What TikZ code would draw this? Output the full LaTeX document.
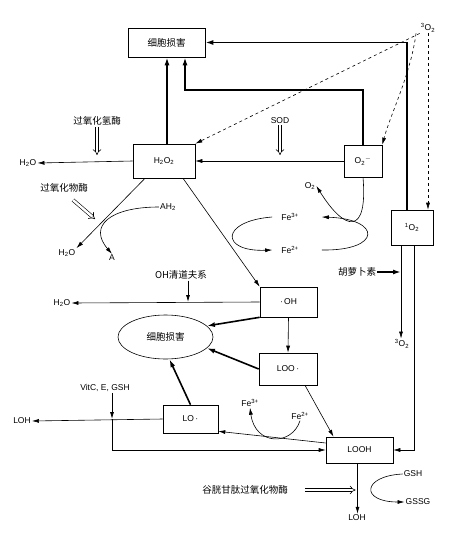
\documentclass[tikz,border=0pt]{standalone}
\usepackage{fontspec}
\setmainfont{Liberation Sans}
\newfontfamily\cjk{Noto Sans CJK SC}
\usetikzlibrary{arrows.meta, shapes.geometric}

\begin{document}
\begin{tikzpicture}[x=1pt, y=-1pt,
    box/.style={draw, semithick, inner sep=0pt, font=\fontsize{8.5}{10}\selectfont},
    lbl/.style={inner sep=1pt, font=\fontsize{8.5}{10}\selectfont},
    cn/.style={inner sep=1pt, font=\cjk\fontsize{9.5}{11}\selectfont},
    arr/.style={semithick, -{Latex[length=7pt,width=4pt]}},
    thickarr/.style={line width=1.6pt, -{Latex[length=8pt,width=5pt]}},
    dsharr/.style={dashed, semithick, -{Latex[length=7pt,width=4pt]}},
    dbl/.style={semithick, double, double distance=2.4pt, -{Implies}}
]
    \useasboundingbox (0,0) rectangle (467,543);

    \node[box, minimum width=77pt, minimum height=29pt, font=\cjk\fontsize{9.5}{11}\selectfont] (dmg) at (166.5,42.5) {细胞损害};
    \node[box, minimum width=62pt, minimum height=34pt] (h2o2) at (164,161) {H\textsubscript{2}O\textsubscript{2}};
    \node[box, minimum width=38pt, minimum height=32pt] (sup) at (363,161) {O\textsubscript{2}\textsuperscript{$-$}};
    \node[box, minimum width=42pt, minimum height=35pt] (sing) at (412,227.5) {\textsuperscript{1}O\textsubscript{2}};
    \node[box, minimum width=57pt, minimum height=30pt] (oh) at (288.5,302) {·\,OH};
    \node[box, minimum width=58pt, minimum height=32pt] (loo) at (288,369) {LOO\,·};
    \node[box, minimum width=55pt, minimum height=28pt] (lo) at (190.5,419) {LO\,·};
    \node[box, minimum width=67pt, minimum height=26pt] (looh) at (359.5,450) {LOOH};
    \node[draw, semithick, ellipse, minimum width=95pt, minimum height=44pt, inner sep=0pt,
        font=\cjk\fontsize{9.5}{11}\selectfont] (ell) at (165.5,337) {细胞损害};

    \node[lbl] (trip) at (428,28) {\textsuperscript{3}O\textsubscript{2}};
    \node[lbl] (tripb) at (402,344) {\textsuperscript{3}O\textsubscript{2}};
    \node[lbl] (h2oa) at (28,163) {H\textsubscript{2}O};
    \node[lbl] (h2ob) at (67,253) {H\textsubscript{2}O};
    \node[lbl] (h2oc) at (62,303) {H\textsubscript{2}O};
    \node[lbl] (ah2) at (168,207) {AH\textsubscript{2}};
    \node[lbl] (aa) at (112,258) {A};
    \node[lbl] (o2) at (310,186) {O\textsubscript{2}};
    \node[lbl] (fe3a) at (290,217) {Fe\textsuperscript{3+}};
    \node[lbl] (fe2a) at (290,250) {Fe\textsuperscript{2+}};
    \node[lbl] (sod) at (280,121) {SOD};
    \node[cn] (cat) at (97,121) {过氧化氢酶};
    \node[cn] (perox) at (64,188) {过氧化物酶};
    \node[cn] (ohsc) at (181,275) {OH清道夫系};
    \node[cn] (caro) at (357,272) {胡萝卜素};
    \node[lbl] (vit) at (105,388) {VitC, E, GSH};
    \node[lbl] (loha) at (22,421) {LOH};
    \node[lbl] (fe3b) at (250,403) {Fe\textsuperscript{3+}};
    \node[lbl] (fe2b) at (300,416) {Fe\textsuperscript{2+}};
    \node[lbl] (gsh) at (413,474) {GSH};
    \node[lbl] (gssg) at (418,502) {GSSG};
    \node[lbl] (lohb) at (357,518) {LOH};
    \node[cn] (gpx) at (245,490) {谷胱甘肽过氧化物酶};

    \coordinate (k1) at (185,90);
    \coordinate (p1) at (188,302);
    \coordinate (p2) at (112,419);
    \coordinate (p3) at (401,272);
    \coordinate (q1) at (95,219);
    \coordinate (q2) at (73,200);

    \draw[thickarr] ([xshift=-5pt]sing.north) |- (dmg.east);
    \draw[thickarr] (sup.north) |- (k1) -- (k1 |- dmg.south);
    \draw[thickarr] ([xshift=3pt]h2o2.north) -- ([xshift=3pt]h2o2.north |- dmg.south);
    \draw[dsharr] (trip.south west) -- (h2o2.north east);
    \draw[dsharr] ([xshift=-12pt]trip.south) .. controls +(-5,40) and +(8,-30) .. (sup.north east);
    \draw[dsharr] (trip.south) -- (trip.south |- sing.north);

    \draw[arr] (sup.west) -- (h2o2.east);
    \draw[arr] (h2o2.west) -- (h2oa.east);
    \draw[arr] ([xshift=-19pt]h2o2.south) -- (h2ob.north east);
    \draw[arr] ([xshift=19pt]h2o2.south) -- (oh.north west);
    \draw[dbl] (sod.south) -- ([yshift=6pt]sod.south |- sup.west);
    \draw[dbl] (cat.south) -- ([yshift=6pt]cat.south |- h2o2.west);
    \draw[dbl] (q2) -- (q1);
    \draw[arr] (ah2.west) .. controls (110,207) and (88,226) .. (aa.north);
    \draw[arr] (sup.south) .. controls (368,236) and (345,232) .. (o2.east);
    \draw[arr] ([xshift=-8pt]fe3a.west) .. controls (220,221) and (220,252) .. ([xshift=-8pt]fe2a.west);
    \draw[arr] ([xshift=22pt]fe2a.east) .. controls (382,251) and (382,219) .. ([xshift=22pt]fe3a.east);

    \draw[arr] (oh.west) -- (h2oc.east);
    \draw[arr, thick] (p1 |- ohsc.south) -- (p1);
    \draw[thickarr] (oh.south west) -- (ell.15);
    \draw[thickarr] (loo.west) -- (ell.-15);
    \draw[thickarr] (lo.north) -- (ell.-80);
    \draw[arr] (oh.south) -- (loo.north);
    \draw[arr] ([xshift=17pt]loo.south) -- ([xshift=-26pt]looh.north);
    \draw[arr] ([yshift=7pt]looh.west) -- ([yshift=2pt]lo.south east);
    \draw[arr] (fe2b.south) .. controls (292,446) and (255,446) .. (fe3b.south);
    \draw[arr] (lo.west) -- (loha.east);
    \draw[arr, thick] (vit.south -| p2) -- (p2);
    \draw[arr] (p2) |- (looh.west);

    \draw[arr] ([xshift=-11pt]sing.south) -- ([xshift=-11pt]sing.south |- tripb.north);
    \draw[arr] ([xshift=2pt]sing.south) |- (looh.east);
    \draw[thickarr] (caro.east) -- (p3);

    \draw[arr] ([xshift=-2pt]looh.south) -- ([xshift=-2pt]looh.south |- lohb.north);
    \draw[arr] (gsh.west) .. controls (362,476) and (360,502) .. (gssg.west);
    \draw[dbl] ([xshift=16pt]gpx.east) -- ([xshift=-4pt]gpx.east -| looh.south);
\end{tikzpicture}
\end{document}
